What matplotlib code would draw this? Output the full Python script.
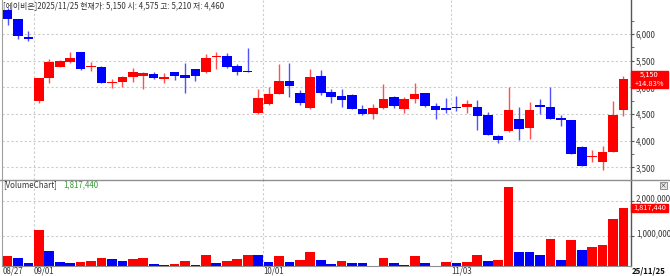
import numpy as np
import pandas as pd
import matplotlib
matplotlib.use("Agg")
import matplotlib.pyplot as plt
from matplotlib.patches import Rectangle
from matplotlib.transforms import blended_transform_factory, ScaledTranslation

plt.rcParams['font.family'] = ['Noto Sans CJK KR', 'DejaVu Sans']

# 거래일 (추석 연휴 제외)
holidays = ['2025-10-03', '2025-10-06', '2025-10-07', '2025-10-08', '2025-10-09']
dates = [d for d in pd.bdate_range('2025-08-27', '2025-11-25') if d.strftime('%Y-%m-%d') not in holidays]

opens = [6450, 6275, 5940, 4745, 5182, 5388, 5481, 5657, 5380, 5388,
         5077, 5101, 5189, 5208, 5256, 5163, 5283, 5238, 5344, 5283,
         5564, 5588, 5401, 5307, 4515, 4683, 4876, 5125, 4889, 4608,
         5213, 4908, 4839, 4857, 4595, 4496, 4608, 4814, 4590, 4777,
         4889, 4651, 4600, 4638, 4627, 4627, 4480, 4090, 4189, 4402,
         4234, 4676, 4627, 4421, 4389, 3889, 3690, 3608, 3796, 4575]
highs = [6480, 6290, 6060, 5180, 5537, 5520, 5663, 5660, 5476, 5400,
         5152, 5213, 5369, 5280, 5294, 5275, 5290, 5451, 5350, 5625,
         5668, 5640, 5438, 5732, 4964, 5002, 5438, 5462, 4951, 5339,
         5326, 4964, 4964, 4870, 4670, 4686, 5063, 4830, 4814, 5088,
         4900, 4702, 4796, 4839, 4764, 4764, 4545, 4108, 5013, 4627,
         4721, 4789, 5002, 4480, 4395, 3895, 3827, 3902, 4751, 5210]
lows = [6170, 5905, 5875, 4702, 5077, 5380, 5451, 5330, 5313, 5080,
        4983, 5002, 5107, 4964, 5151, 5088, 5138, 4901, 5125, 5275,
        5339, 5363, 5232, 5280, 4505, 4670, 4870, 4814, 4676, 4600,
        4857, 4702, 4638, 4590, 4490, 4402, 4600, 4608, 4526, 4702,
        4640, 4402, 4515, 4564, 4515, 4201, 4100, 3953, 4170, 4015,
        4030, 4502, 4400, 4277, 3745, 3525, 3608, 3453, 3790, 4460]
closes = [6280, 5970, 5915, 5170, 5481, 5500, 5550, 5339, 5392, 5088,
          5107, 5189, 5294, 5264, 5170, 5189, 5219, 5170, 5213, 5556,
          5588, 5388, 5294, 5283, 4796, 4876, 5125, 5020, 4702, 5200,
          4901, 4814, 4764, 4595, 4496, 4608, 4777, 4651, 4777, 4876,
          4651, 4573, 4585, 4614, 4686, 4464, 4108, 4015, 4577, 4221,
          4577, 4638, 4408, 4384, 3752, 3530, 3715, 3796, 4485, 5150]
volumes = [412000, 374000, 217000, 1165000, 557000, 238000, 230000, 245000, 287000, 374000,
           325000, 287000, 325000, 354000, 200000, 151000, 180000, 287000, 155000, 461000,
           229000, 267000, 325000, 449000, 440000, 238000, 412000, 238000, 296000, 548000,
           304000, 200000, 275000, 217000, 215000, 140000, 374000, 217000, 150000, 420000,
           217000, 140000, 238000, 230000, 245000, 449000, 275000, 296000, 2403000, 548000,
           527000, 449000, 904000, 296000, 895000, 606000, 672000, 730000, 1504000, 1817440]

price_ticks = [3500, 4000, 4500, 5000, 5500, 6000]
vol_ticks = [1000000, 2000000]

RED = '#ff0000'
BLUE = '#0000ff'
GRID = '#cccccc'
W, H = 670, 276
FS = 5.7

fig = plt.figure(figsize=(W / 100, H / 100), dpi=100)
fig.patch.set_facecolor('white')


def box(x0, y0, x1, y1):
    # 픽셀 좌표(위에서부터) -> figure 비율
    return [x0 / W, 1 - y1 / H, (x1 - x0) / W, (y1 - y0) / H]


ax = fig.add_axes(box(2, 0, 631, 180))
axv = fig.add_axes(box(2, 180, 631, 266), sharex=ax)

x = np.arange(len(closes))
o = np.array(opens)
c = np.array(closes)
up = c >= o
cols = np.where(up, RED, BLUE)
wick_cols = np.where(up, '#ff5050', '#5050ff')

ax.vlines(x, lows, highs, colors=wick_cols, lw=1, zorder=2)
body_lo = np.minimum(o, c)
body_h = np.maximum(np.abs(c - o), 22)
ax.bar(x, body_h, bottom=body_lo, width=0.92, color=cols, lw=0, zorder=3)

vol = np.array(volumes)
vcols = np.where(np.diff(vol, prepend=0) > 0, RED, BLUE)
axv.bar(x, vol, width=0.93, color=vcols, lw=0, zorder=3)

ax.set_xlim(-0.53, 59.72)
ax.set_ylim(3265, 6637)
axv.set_ylim(130000, 2620000)

# 월 시작 위치 (세로 점선)
month_starts = [i for i in range(1, len(dates)) if dates[i].month != dates[i - 1].month]
for a in (ax, axv):
    for i in month_starts:
        a.axvline(i - 0.5, color=GRID, lw=0.8, ls=(0, (2, 2)), zorder=1)
for p in price_ticks:
    ax.axhline(p, color=GRID, lw=0.8, ls=(0, (2, 2)), zorder=1)
for v in vol_ticks:
    axv.axhline(v, color=GRID, lw=0.8, ls=(0, (2, 2)), zorder=1)

for a in (ax, axv):
    a.yaxis.tick_right()
    a.tick_params(axis='x', bottom=False, labelbottom=False)
    a.tick_params(axis='y', right=True, length=2.5, width=0.8, color='#555555', pad=1,
                  labelsize=FS, labelcolor='#333333')
    for s in ('top', 'bottom'):
        a.spines[s].set_visible(False)
    a.spines['left'].set_color('#a0a0a0')
    a.spines['right'].set_color('#555555')
    a.spines['right'].set_linewidth(1)
    a.set_facecolor('none')

ax.set_yticks(price_ticks)
ax.set_yticklabels([f'{p:,}' for p in price_ticks])
ax.set_yticks(np.arange(3500, 6500, 250), minor=True)
ax.tick_params(axis='y', which='minor', right=True, length=2, color='#555555')
axv.set_yticks(vol_ticks)
axv.set_yticklabels([f'{v:,}' for v in vol_ticks])
# 거래량 눈금 라벨은 격자선보다 조금 위에
up_shift = ScaledTranslation(0, 2.5 / 72, fig.dpi_scale_trans)
for lbl in axv.get_yticklabels():
    lbl.set_transform(lbl.get_transform() + up_shift)

# 구분선
fig.add_artist(plt.Line2D([0, 1], [1 - 180 / H, 1 - 180 / H], color='#909090', lw=1))
fig.add_artist(plt.Line2D([2 / W, 631 / W], [1 - 266 / H, 1 - 266 / H], color='#909090', lw=0.8))

# 현재가 박스
tr = blended_transform_factory(ax.transAxes, ax.transData)
bw = 37 / 629
ax.add_patch(Rectangle((1.0, closes[-1] - 160), bw, 315, transform=tr, color=RED,
                       clip_on=False, zorder=5))
pct = (closes[-1] - closes[-2]) / closes[-2] * 100
ax.text(1.0 + bw / 2, closes[-1] + 80, f'{closes[-1]:,}', transform=tr, ha='center', va='center',
        color='white', fontsize=5.4, zorder=6)
ax.text(1.0 + bw / 2, closes[-1] - 82, f'+{pct:.2f}%', transform=tr, ha='center', va='center',
        color='white', fontsize=5.4, zorder=6)

trv = blended_transform_factory(axv.transAxes, axv.transData)
axv.add_patch(Rectangle((1.0, volumes[-1] - 120000), bw, 240000, transform=trv, color=RED,
                        clip_on=False, zorder=5))
axv.text(1.0 + bw / 2, volumes[-1], f'{volumes[-1]:,}', transform=trv, ha='center', va='center',
         color='white', fontsize=5.3, zorder=6)

# 제목
fig.text(3 / W, 1 - 6 / H, f'[에이비온]2025/11/25 현재가: {closes[-1]:,} 시: {opens[-1]:,} '
         f'고: {highs[-1]:,} 저: {lows[-1]:,}', ha='left', va='center', fontsize=FS, color='#333333')
fig.text(3 / W, 1 - 184.5 / H, '[VolumeChart]', ha='left', va='center', fontsize=FS, color='#333333')
fig.text(63 / W, 1 - 184.5 / H, f'{volumes[-1]:,}', ha='left', va='center', fontsize=FS, color='#2f9a2f')

# 닫기 버튼
fig.add_artist(Rectangle((660 / W, 1 - 189 / H), 7 / W, 7 / H, transform=fig.transFigure,
                         facecolor='#e8e8e8', edgecolor='#808080', lw=0.6))
fig.text(663.5 / W, 1 - 185.5 / H, '×', ha='center', va='center', fontsize=5, color='#333333')

# 날짜 라벨
trd = blended_transform_factory(axv.transData, fig.transFigure)
for i in [0] + month_starts:
    axv.text(max(i - 0.5, -0.75), 1 - 271 / H, dates[i].strftime('%m/%d'), transform=trd, ha='left',
             va='center', fontsize=FS, color='#333333', clip_on=False)
fig.text(632 / W, 1 - 271 / H, dates[-1].strftime('%y/%m/%d'), ha='left', va='center',
         fontsize=FS, color='#111111', fontweight='bold')

fig.savefig('out.png', dpi=100)
